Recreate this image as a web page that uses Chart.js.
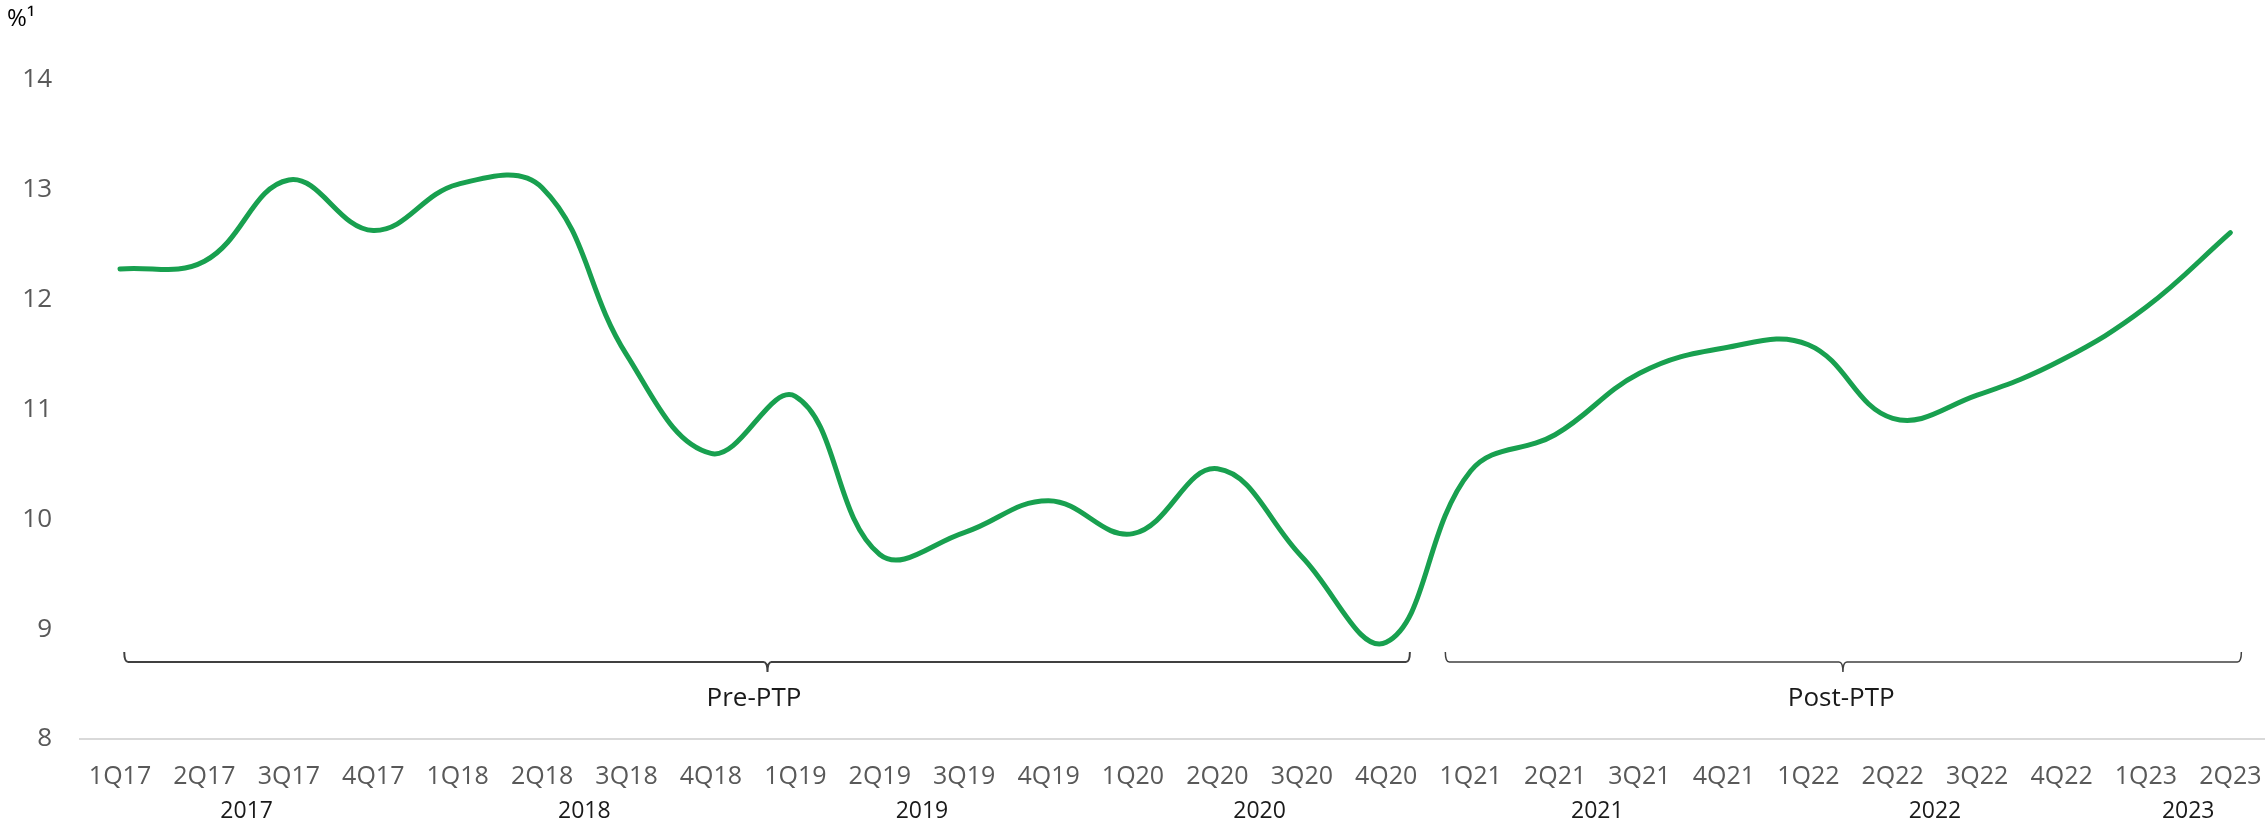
<!DOCTYPE html>
<html>
<head>
<meta charset="utf-8">
<script src="https://cdn.jsdelivr.net/npm/chart.js@4"></script>
<style>
  html, body { margin: 0; padding: 0; background: #fff; }
  #wrap { width: 2265px; height: 827px; }
</style>
</head>
<body>
<div id="wrap"><canvas id="chart"></canvas></div>
<script>
const quarters = ['1Q17', '2Q17', '3Q17', '4Q17', '1Q18', '2Q18', '3Q18', '4Q18',
  '1Q19', '2Q19', '3Q19', '4Q19', '1Q20', '2Q20', '3Q20', '4Q20',
  '1Q21', '2Q21', '3Q21', '4Q21', '1Q22', '2Q22', '3Q22', '4Q22', '1Q23', '2Q23'];
const years = ['2017', '2018', '2019', '2020', '2021', '2022', '2023'];
const ratio = [12.28, 12.35, 13.09, 12.63, 13.05, 13.02, 11.50, 10.60,
  11.12, 9.68, 9.88, 10.17, 9.87, 10.46, 9.66, 8.88,
  10.44, 10.77, 11.33, 11.56, 11.59, 10.92, 11.13, 11.45, 11.93, 12.61];
const yTicks = [8, 9, 10, 11, 12, 13, 14];
const periods = ['Pre-PTP', 'Post-PTP'];

// centre of each year's quarters, in category index units
const yearCentres = years.map(yr => {
  const idx = quarters.map((q, i) => q.endsWith(yr.slice(2)) ? i : -1).filter(i => i >= 0);
  return idx.reduce((a, b) => a + b, 0) / idx.length;
});

// bracket spans (index units) for the two periods
const spans = [
  { from: 0.05, to: 15.28, mid: 7.67, label: 7.51 },
  { from: 15.70, to: 25.13, mid: 20.41, label: 20.39 }
];

const brackets = {
  id: 'brackets',
  afterDatasetsDraw(chart) {
    const { ctx, scales: { x, y } } = chart;
    const yb = y.getPixelForValue(8.7);
    const yl = y.getPixelForValue(8.37);
    ctx.save();
    spans.forEach((s, i) => {
      const x0 = x.getPixelForValue(s.from);
      const x1 = x.getPixelForValue(s.to);
      const xm = x.getPixelForValue(s.mid);
      ctx.strokeStyle = '#404040';
      ctx.lineWidth = i === 0 ? 2 : 1.5;
      ctx.beginPath();
      ctx.moveTo(x0, yb - 10);
      ctx.quadraticCurveTo(x0, yb, x0 + 4, yb);
      ctx.lineTo(xm - 4, yb);
      ctx.quadraticCurveTo(xm, yb, xm, yb + 10);
      ctx.quadraticCurveTo(xm, yb, xm + 4, yb);
      ctx.lineTo(x1 - 4, yb);
      ctx.quadraticCurveTo(x1, yb, x1, yb - 10);
      ctx.stroke();
      ctx.fillStyle = '#1a1a1a';
      ctx.font = '26px "Open Sans"';
      ctx.textAlign = 'center';
      ctx.textBaseline = 'middle';
      ctx.fillText(periods[i], x.getPixelForValue(s.label), yl);
    });
    ctx.restore();
  }
};

// no extra side padding for the x axes, so the plot runs to the right edge
const noPad = s => { s.paddingLeft = 0; s.paddingRight = 0; };

new Chart(document.getElementById('chart'), {
  type: 'line',
  data: {
    datasets: [{
      data: ratio.map((v, i) => ({ x: i, y: v })),
      borderColor: '#18a04f',
      borderWidth: 5,
      borderCapStyle: 'round',
      borderJoinStyle: 'round',
      pointRadius: 0,
      tension: 0.4,
      fill: false
    }]
  },
  options: {
    responsive: true,
    maintainAspectRatio: false,
    animation: false,
    layout: { padding: { left: 7, right: 0, top: 0, bottom: 0 } },
    plugins: {
      legend: { display: false },
      tooltip: { enabled: false },
      title: {
        display: true,
        text: '%\u00b9',
        align: 'start',
        color: '#000',
        font: { family: 'Open Sans', size: 24, weight: 'normal' },
        padding: { top: 5, bottom: 46.2 }
      }
    },
    scales: {
      x: {
        type: 'linear',
        min: -0.486,
        max: 25.41,
        grid: { display: false, drawTicks: false },
        border: { display: false },
        afterBuildTicks: s => { s.ticks = quarters.map((_, i) => ({ value: i })); },
        afterFit: s => { s.height = 53; noPad(s); },
        ticks: {
          autoSkip: false,
          maxRotation: 0,
          minRotation: 0,
          padding: 23,
          color: '#595959',
          font: { family: 'Open Sans', size: 25 },
          callback: (v, i) => quarters[i]
        }
      },
      x2: {
        type: 'linear',
        position: 'bottom',
        weight: 1,
        min: -0.486,
        max: 25.41,
        grid: { display: false, drawTicks: false },
        border: { display: false },
        afterBuildTicks: s => { s.ticks = yearCentres.map(v => ({ value: v })); },
        afterFit: s => { s.height = 35; noPad(s); },
        ticks: {
          autoSkip: false,
          maxRotation: 0,
          minRotation: 0,
          padding: 6,
          color: '#1a1a1a',
          font: { family: 'Open Sans', size: 23 },
          callback: (v, i) => years[i]
        }
      },
      y: {
        min: 8,
        max: 14,
        afterBuildTicks: s => { s.ticks = yTicks.map(v => ({ value: v })); },
        afterFit: s => { s.width = 72; },
        grid: {
          drawTicks: false,
          lineWidth: 2,
          color: c => c.tick && c.tick.value === 8 ? '#d9d9d9' : 'transparent'
        },
        border: { display: false },
        ticks: {
          padding: 27,
          color: '#595959',
          font: { family: 'Open Sans', size: 26 }
        }
      }
    }
  },
  plugins: [brackets]
});
</script>
</body>
</html>
